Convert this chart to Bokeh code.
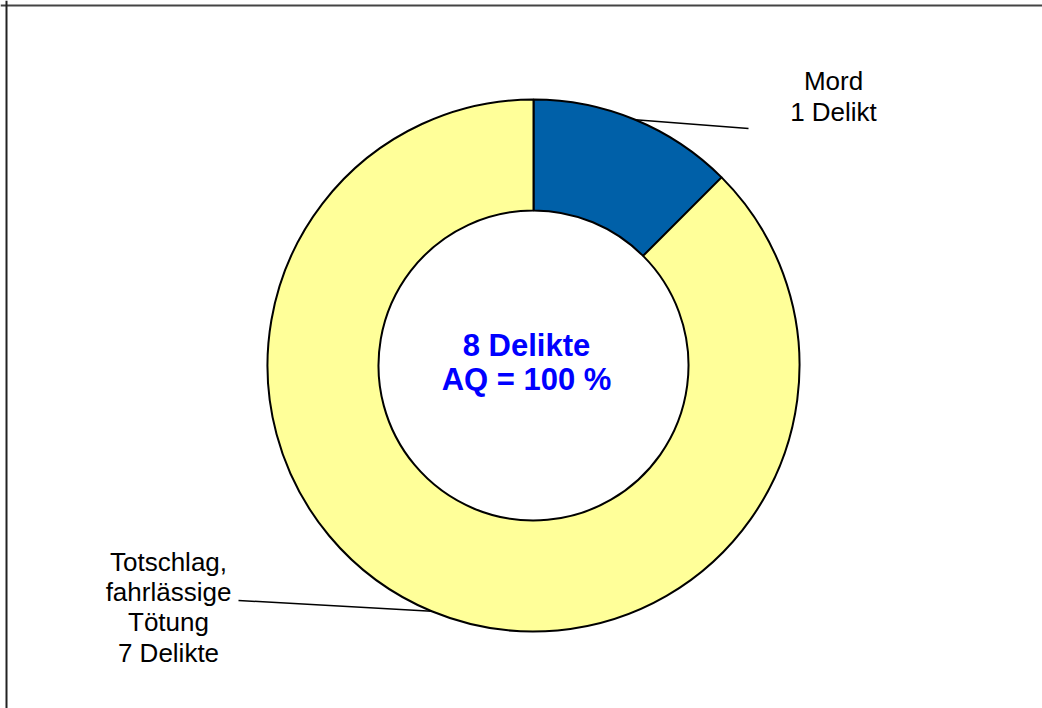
import numpy as np
from bokeh.plotting import figure
from bokeh.models import Range1d, Span, ColumnDataSource
from bokeh.core.properties import value
from bokeh.embed import file_html
from bokeh.resources import INLINE

# ---- data ----
categories = ["Mord", "Totschlag, fahrlässige Tötung"]
counts = [1, 7]
colors = ["#0060A8", "#FFFF99"]
label_lines = [["Mord", "1 Delikt"], ["Totschlag,", "fahrlässige", "Tötung", "7 Delikte"]]
center_lines = ["8 Delikte", "AQ = 100 %"]

W, H = 1042, 708
def px(x):  # image pixel x -> data x
    return x
def py(y):  # image pixel y -> data y
    return H - y

p = figure(width=W, height=H, output_backend="svg", toolbar_location=None,
           x_range=Range1d(0, W), y_range=Range1d(0, H), min_border=0)
p.axis.visible = False
p.grid.visible = False
p.outline_line_color = None
p.background_fill_color = "white"

cx, cy = px(533), py(365)
r_out, r_in = 266, 155

vals = np.array(counts, dtype=float)
frac = vals / vals.sum()
cum = np.concatenate([[0], np.cumsum(frac)])
# clockwise from 12 o'clock
start = np.pi / 2 - 2 * np.pi * cum[1:]
end = np.pi / 2 - 2 * np.pi * cum[:-1]
src = ColumnDataSource(dict(start=start, end=end, color=colors))
p.annular_wedge(x=cx, y=cy, inner_radius=r_in, outer_radius=r_out,
                inner_radius_units="screen", outer_radius_units="screen",
                start_angle="start", end_angle="end", fill_color="color",
                line_color="black", line_width=2, source=src)

# leader lines from slice mid-angles
mid = np.pi / 2 - 2 * np.pi * (cum[:-1] + cum[1:]) / 2
label_ends = [(px(748), py(128)), (px(238), py(600))]
for a, (ex, ey) in zip(mid, label_ends):
    sx = cx + r_out * np.cos(a)
    sy = cy + r_out * np.sin(a)
    p.line([sx, ex], [sy, ey], line_color="black", line_width=1.5)

font = value("Liberation Sans")
# labels
label_pos = [(833, [80, 111]), (168, [561, 591, 621, 652])]
for lines, (lx, ys) in zip(label_lines, label_pos):
    p.text(x=[px(lx)] * len(lines), y=[py(v) for v in ys], text=lines,
           text_font=font, text_font_size="26px", text_color="black",
           text_align="center", text_baseline="alphabetic")

# center text
p.text(x=[px(526)] * 2, y=[py(345), py(379)], text=center_lines,
       text_font=font, text_font_size="31px", text_font_style="bold",
       text_color="#0000FF", text_align="center", text_baseline="alphabetic")

# chart-area border (top & left visible)
p.add_layout(Span(location=py(5), dimension="width", line_color="#444444", line_width=2))
p.add_layout(Span(location=px(6), dimension="height", line_color="#222222", line_width=2))

open("out.html", "w").write(file_html(p, INLINE))
